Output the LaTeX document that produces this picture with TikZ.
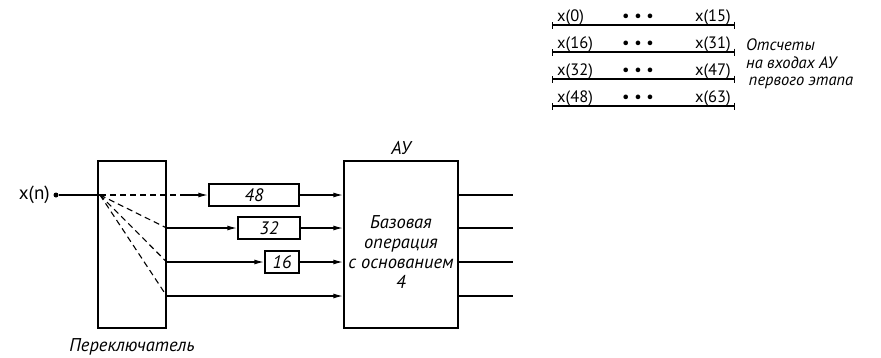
\documentclass[tikz,border=0pt]{standalone}
\usepackage{fontspec}
\setmainfont{PT Sans}
\usetikzlibrary{arrows.meta, positioning, calc}

\begin{document}
\begin{tikzpicture}[x=1pt, y=-1pt]

\tikzset{
  bigbox/.style={rectangle, draw=black, line width=1.4pt, inner sep=0pt,
    minimum width=#1, minimum height=167pt},
  delaybox/.style={rectangle, draw=black, line width=1.4pt, inner sep=0pt,
    minimum width=#1, minimum height=22pt, font=\fontsize{18}{18}\selectfont\itshape},
  boxtext/.style={font=\fontsize{18.5}{20}\selectfont\itshape, align=center},
  arrow/.style={-{Latex[length=10pt, width=5pt]}, line width=1.4pt, black},
  wire/.style={line width=1.4pt, black},
  switchline/.style={line width=1.1pt, dash pattern=on 6pt off 4pt},
  rangeline/.style={{Bar[width=7pt, line width=1pt]}-{Bar[width=7pt, line width=1pt]}, line width=1.1pt},
  samplelabel/.style={font=\fontsize{16.5}{16.5}\selectfont, inner sep=0pt},
  notelabel/.style={font=\fontsize{16.5}{17.2}\selectfont\itshape, align=left, inner sep=0pt}
}

\useasboundingbox (0,0) rectangle (881,357);

% main blocks
\node[bigbox=68pt] (switch) at (132,244.5) {};
\node[bigbox=114pt] (au) at (401,244.5) {};
\node[boxtext] (auop) at (401,252) {Базовая\\операция\\с основанием\\4};
\node[boxtext, above=2pt of au.north] (aulabel) {АУ};
\node[boxtext, below=6pt of switch.south] (switchlabel) {Переключатель};

% delay registers
\node[delaybox=90pt] (d48) at (254,195) {48};
\node[delaybox=62pt] (d32) at (269,228) {32};
\node[delaybox=34pt] (d16) at (282,262) {16};

% input
\coordinate (pivot) at (100,195);
\node[circle, fill=black, inner sep=0pt, minimum size=5pt] (indot) at (56,195) {};
\node[font=\fontsize{19}{19}\selectfont, left=0pt of indot] (inlabel) {x(n)};
\draw[wire] (indot) -- (pivot);

% switch positions
\coordinate (s1) at (180,195);
\coordinate (s2) at (switch.east |- d32);
\coordinate (s3) at (switch.east |- d16);
\coordinate (s4) at ($(switch.east)+(0,51.5)$);
\draw[switchline] (pivot) -- (s1);
\draw[switchline] (pivot) -- (s2);
\draw[switchline] (pivot) -- (s3);
\draw[switchline] (pivot) -- (s4);

\draw[arrow] (s1) -- (d48.west);
\draw[arrow] (s2) -- (d32.west);
\draw[arrow] (s3) -- (d16.west);
\draw[arrow] (s4) -- (au.west |- s4);
\draw[arrow] (d48.east) -- (au.west |- d48);
\draw[arrow] (d32.east) -- (au.west |- d32);
\draw[arrow] (d16.east) -- (au.west |- d16);

% outputs
\coordinate (o1) at (513,195);
\coordinate (o2) at (513,228);
\coordinate (o3) at (513,262);
\coordinate (o4) at (513,296);
\draw[wire] (au.east |- o1) -- (o1);
\draw[wire] (au.east |- o2) -- (o2);
\draw[wire] (au.east |- o3) -- (o3);
\draw[wire] (au.east |- o4) -- (o4);

% samples at the inputs
\coordinate (r1a) at (552,25);  \coordinate (r1b) at (735,25);
\coordinate (r2a) at (552,52);  \coordinate (r2b) at (735,52);
\coordinate (r3a) at (552,79);  \coordinate (r3b) at (735,79);
\coordinate (r4a) at (552,106); \coordinate (r4b) at (735,106);
\draw[rangeline] (r1a) -- (r1b);
\draw[rangeline] (r2a) -- (r2b);
\draw[rangeline] (r3a) -- (r3b);
\draw[rangeline] (r4a) -- (r4b);

\node[samplelabel, anchor=base west] (x0) at ($(r1a)+(5,-4)$) {x(0)};
\node[samplelabel, anchor=base] (dots1) at ($(r1a)!0.47!(r1b)+(0,-4)$) {•\;•\;•};
\node[samplelabel, anchor=base east] (x15) at ($(r1b)+(-4,-4)$) {x(15)};
\node[samplelabel, anchor=base west] (x16) at ($(r2a)+(5,-4)$) {x(16)};
\node[samplelabel, anchor=base] (dots2) at ($(r2a)!0.47!(r2b)+(0,-4)$) {•\;•\;•};
\node[samplelabel, anchor=base east] (x31) at ($(r2b)+(-4,-4)$) {x(31)};
\node[samplelabel, anchor=base west] (x32) at ($(r3a)+(5,-4)$) {x(32)};
\node[samplelabel, anchor=base] (dots3) at ($(r3a)!0.47!(r3b)+(0,-4)$) {•\;•\;•};
\node[samplelabel, anchor=base east] (x47) at ($(r3b)+(-4,-4)$) {x(47)};
\node[samplelabel, anchor=base west] (x48) at ($(r4a)+(5,-4)$) {x(48)};
\node[samplelabel, anchor=base] (dots4) at ($(r4a)!0.47!(r4b)+(0,-4)$) {•\;•\;•};
\node[samplelabel, anchor=base east] (x63) at ($(r4b)+(-4,-4)$) {x(63)};

\node[notelabel, anchor=north west] (note) at (746,39)
  {Отсчеты\\на входах АУ\\\,первого этапа};

\end{tikzpicture}
\end{document}
